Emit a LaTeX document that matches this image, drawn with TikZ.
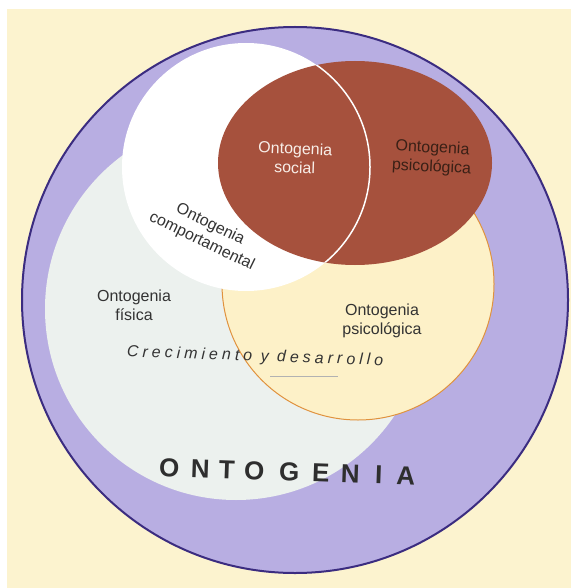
\documentclass[tikz,border=0pt]{standalone}
\usepackage{fontspec}
\setmainfont{Liberation Sans}
\newfontfamily\crecfont[LetterSpace=25]{Liberation Sans}
\definecolor{cream}{HTML}{FCF3CF}
\definecolor{lav}{HTML}{B8AEE2}
\definecolor{navy}{HTML}{3B2C80}
\definecolor{pale}{HTML}{ECF1EE}
\definecolor{psyfill}{HTML}{FDF1C8}
\definecolor{orng}{HTML}{E0923E}
\definecolor{brn}{HTML}{A6513D}
\definecolor{txtgray}{HTML}{333333}
\definecolor{socwhite}{HTML}{F8EEE8}
\definecolor{psydark}{HTML}{3A2016}
\tikzset{
  lbl/.style={font=\fontsize{16}{19}\selectfont, text=txtgray, align=center, inner sep=0pt},
  bigletter/.style={font=\bfseries\fontsize{26}{30}\selectfont, text=txtgray!90!black, anchor=base, inner sep=0pt, rotate=-2},
}
\begin{document}
\begin{tikzpicture}[x=1pt,y=-1pt]
\useasboundingbox (0,0) rectangle (571,588);
\fill[white] (0,0) rectangle (571,588);
\fill[cream] (7,9) rectangle (571,588);
% outer ontogenia circle
\fill[lav] (295,300) circle (273pt);
% physical
\fill[pale] (236,309) circle (191pt);
% psychological (lower)
\filldraw[fill=psyfill, draw=orng, line width=1pt] (358,284) circle (136pt);
% behavioural
\fill[white] (246,167) circle (124pt);
% social / psychological ellipse
\fill[brn] (355,163) ellipse [x radius=137pt, y radius=102pt];
\begin{scope}
  \clip (355,163) ellipse [x radius=137pt, y radius=102pt];
  \draw[white, line width=1.5pt] (246,167) circle (124pt);
\end{scope}
\draw[navy, line width=2pt] (295,300) circle (273pt);

% labels
\node[lbl, text=socwhite, rotate=-2] (soc) at (295,158) {Ontogenia\\social};
\node[lbl, text=psydark, rotate=-3] (psyA) at (432,158) {Ontogenia\\psicológica};
\node[lbl, rotate=-26] (comp) at (206,233) {Ontogenia\\comportamental};
\node[lbl] (fis) at (134,305) {Ontogenia\\física};
\node[lbl] (psyB) at (382,321) {Ontogenia\\psicológica};
\node[font=\crecfont\itshape\fontsize{16}{19}\selectfont, text=txtgray, rotate=-2, anchor=base, inner sep=0pt] (crec) at (255,361) {Crecimiento y desarrollo};
\coordinate (ulA) at (270,376);
\coordinate (ulB) at (338,376);
\draw[gray!60, line width=0.8pt] (ulA) -- (ulB);

\foreach \l/\x [count=\i] in {O/169,N/200,T/226.5,O/254,G/289,E/320.5,N/350,I/378.5,A/405.5}
  \node[bigletter] (ont\i) at (\x, {478+(\x-200)*0.034}) {\l};
\end{tikzpicture}
\end{document}
